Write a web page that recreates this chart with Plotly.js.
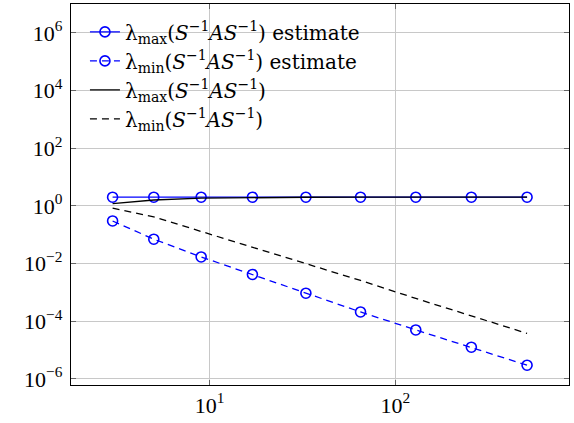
<!DOCTYPE html>
<html>
<head>
<meta charset="utf-8">
<script src="https://cdn.plot.ly/plotly-3.0.1.min.js"></script>
<style>html,body{margin:0;padding:0;background:#fff;}#chart{width:574px;height:423px;}</style>
</head>
<body>
<div id="chart"></div>
<script>
const nValues = [3, 5, 9, 17, 33, 65, 129, 257, 513];
const lamMaxEstimate = [2.0, 2.0, 2.0, 2.0, 2.0, 2.0, 2.0, 2.0, 2.0];
const lamMinEstimate = [0.30, 0.070, 0.017, 0.0042, 0.00094, 0.00021, 0.00005, 0.0000126, 0.0000030];
const lamMaxExact = [1.2, 1.6, 1.85, 1.95, 1.99, 2.0, 2.0, 2.0, 2.0];
const lamMinExact = [0.83, 0.42, 0.13, 0.037, 0.010, 0.0026, 0.00062, 0.00015, 0.000038];
const yTickVals = [1e-6, 1e-4, 1e-2, 1, 1e2, 1e4, 1e6];
const yTickText = ['10<sup>−6</sup>', '10<sup>−4</sup>', '10<sup>−2</sup>', '10<sup>0</sup>', '10<sup>2</sup>', '10<sup>4</sup>', '10<sup>6</sup>'];
const xTickVals = [10, 100];
const xTickText = ['10<sup>1</sup>', '10<sup>2</sup>'];
const names = [
  'λ<sub>max</sub>(<i>S</i><sup>−1</sup><i>AS</i><sup>−1</sup>) estimate',
  'λ<sub>min</sub>(<i>S</i><sup>−1</sup><i>AS</i><sup>−1</sup>) estimate',
  'λ<sub>max</sub>(<i>S</i><sup>−1</sup><i>AS</i><sup>−1</sup>)',
  'λ<sub>min</sub>(<i>S</i><sup>−1</sup><i>AS</i><sup>−1</sup>)'
];
const FONT = 'Liberation Serif, serif';
const LFONT = 'DejaVu Serif, serif';
const BLUE = '#0000ff';
const mk = {symbol: 'circle-open', size: 10, color: BLUE, line: {width: 1.6, color: BLUE}};
const traces = [
  {x: nValues, y: lamMaxEstimate, name: names[0], mode: 'lines+markers', line: {color: BLUE, width: 1.3}, marker: mk},
  {x: nValues, y: lamMinEstimate, name: names[1], mode: 'lines+markers', line: {color: BLUE, width: 1.3, dash: '7px,5px'}, marker: mk},
  {x: nValues, y: lamMaxExact, name: names[2], mode: 'lines', line: {color: '#000', width: 1.3}},
  {x: nValues, y: lamMinExact, name: names[3], mode: 'lines', line: {color: '#000', width: 1.3, dash: '7px,5px'}}
];
const layout = {
  width: 574, height: 423,
  margin: {l: 71, r: 5, t: 4, b: 38},
  paper_bgcolor: '#fff', plot_bgcolor: '#fff',
  font: {family: FONT, size: 22, color: '#000'},
  showlegend: true,
  legend: {x: 0.028, y: 0.978, xanchor: 'left', yanchor: 'top', bgcolor: 'rgba(0,0,0,0)', borderwidth: 0,
           font: {family: LFONT, size: 20, color: '#000'}, tracegroupgap: 0, itemwidth: 30},
  xaxis: {type: 'log', range: [0.253, 2.936], tickvals: xTickVals, ticktext: xTickText,
          showgrid: true, gridcolor: '#c8c8c8', gridwidth: 1, zeroline: false,
          showline: true, linecolor: '#000', linewidth: 1.2, mirror: 'ticks',
          ticks: 'inside', ticklen: 5, tickcolor: '#666', tickfont: {family: FONT, size: 22}},
  yaxis: {type: 'log', range: [-6.21, 7.0], tickvals: yTickVals, ticktext: yTickText,
          showgrid: true, gridcolor: '#c8c8c8', gridwidth: 1, zeroline: false,
          showline: true, linecolor: '#000', linewidth: 1.2, mirror: 'ticks',
          ticks: 'inside', ticklen: 5, tickcolor: '#666', ticklabelstandoff: 3, tickfont: {family: FONT, size: 22}}
};
Plotly.newPlot('chart', traces, layout, {displayModeBar: false, staticPlot: true});
</script>
</body>
</html>
